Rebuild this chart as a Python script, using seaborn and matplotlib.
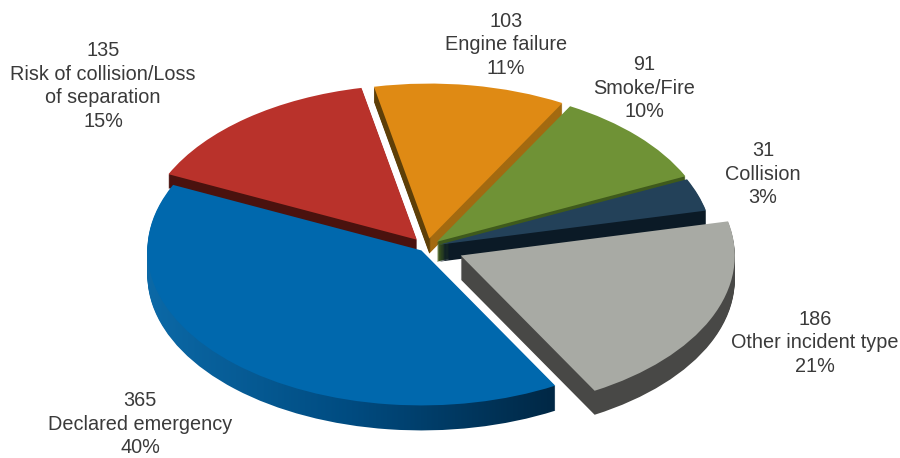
import numpy as np
import matplotlib
matplotlib.use("Agg")
import matplotlib.pyplot as plt
from matplotlib.colors import LinearSegmentedColormap
import seaborn as sns

# Data (counter-clockwise from the start angle)
categories = ["Declared emergency", "Other incident type", "Collision", "Smoke/Fire",
              "Engine failure", "Risk of collision/Loss\nof separation"]
counts = [365, 186, 31, 91, 103, 135]
percents = [40, 21, 3, 10, 11, 15]

# Styles
top_colors = ["#0068ad", "#a8aaa4", "#234159", "#6f9236", "#df8a14", "#b9322b"]
side_colors = ["#004a7c", "#484846", "#0b1a26", "#3f5a1c", "#a36a10", "#4a120e"]
explode = [0.03, 0.135, 0.045, 0.05, 0.055, 0.06]
depths = [25, 24, 17, 20, 15, 14]
label_pos = [(140, 424), (815, 343), (763, 174), (644, 88), (506, 45), (103, 86)]

W, H = 900, 458
CX, CY, RX, RY = 427, 247, 274, 155
START = 155.0

sns.set_theme(style="white")
plt.rcParams["font.family"] = ["Liberation Sans", "DejaVu Sans"]

fig = plt.figure(figsize=(W / 100, H / 100), dpi=100, facecolor="white")
ax = fig.add_axes([0, 0, 1, 1])
xlim = (-CX / RX, (W - CX) / RX)
ylim = ((CY - H) / RY, CY / RY)


def px_x(p):
    return (p - CX) / RX


blue_cmap = LinearSegmentedColormap.from_list("b", ["#0c6aa8", "#004b80", "#002642"])
orange_cmap = LinearSegmentedColormap.from_list("o", ["#5e3f08", "#a36a10"], N=2)
gradients = {0: (blue_cmap, 140, 565), 4: (orange_cmap, 130, 730)}

z = 1
for d in range(max(depths), 0, -1):
    wedges, _ = ax.pie(counts, startangle=START, counterclock=True, explode=explode,
                       colors=side_colors, radius=1, center=(0, -d / RY),
                       wedgeprops=dict(linewidth=0))
    for i, w in enumerate(wedges):
        w.set_zorder(z)
        if d > depths[i]:
            w.set_visible(False)
        elif i in gradients:
            cmap, x0, x1 = gradients[i]
            w.set_visible(False)
            im = ax.imshow(np.linspace(0, 1, 256).reshape(1, -1), cmap=cmap, aspect="auto",
                           extent=(px_x(x0), px_x(x1), -2, 2), vmin=0.0, vmax=1.0, zorder=z)
            im.set_clip_path(w)
    z += 1

wedges, _ = ax.pie(counts, startangle=START, counterclock=True, explode=explode,
                   colors=top_colors, radius=1, center=(0, 0),
                   wedgeprops=dict(linewidth=0))
for w in wedges:
    w.set_zorder(z)

ax.set_aspect("auto")
ax.set_xlim(*xlim)
ax.set_ylim(*ylim)
ax.axis("off")

for cat, n, pct, (x, y) in zip(categories, counts, percents, label_pos):
    fig.text(x / W, 1 - y / H, f"{n}\n{cat}\n{pct}%", ha="center", va="center",
             fontsize=14.3, color="#3a3a3a", linespacing=1.3, zorder=z + 1)

fig.savefig("out.png", dpi=100)
